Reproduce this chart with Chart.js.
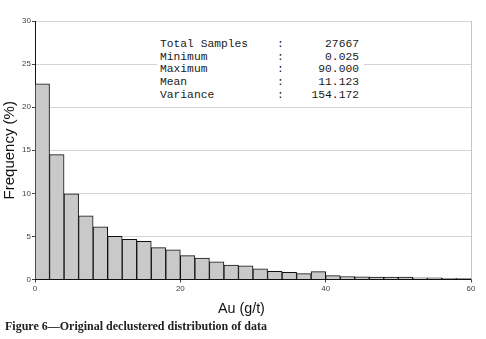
<!DOCTYPE html>
<html>
<head>
<meta charset="utf-8">
<script src="https://cdn.jsdelivr.net/npm/chart.js@4/dist/chart.umd.min.js"></script>
<style>
  html, body { margin: 0; padding: 0; background: #fff; }
  #wrap { position: relative; width: 486px; height: 339px; }
  canvas { position: absolute; left: 0; top: 0; }
  #stats {
    position: absolute; left: 157px; top: 35px; width: 207px; height: 69px;
    background: #fff; font-family: "Liberation Mono", "DejaVu Sans Mono", monospace;
    font-size: 11.3px; color: #1a1a1a;
  }
  #stats div { position: absolute; white-space: pre; line-height: 12px; }
  #caption {
    position: absolute; left: 5px; top: 319px; white-space: nowrap;
    font-family: "Liberation Serif", "DejaVu Serif", serif; font-weight: bold;
    font-size: 12px; color: #222;
  }
  #xtitle {
    position: absolute; left: 218px; top: 300px; white-space: nowrap;
    font-family: "Liberation Sans", Arial, sans-serif; font-size: 14.3px; color: #111;
  }
</style>
</head>
<body>
<div id="wrap">
  <canvas id="c" width="486" height="339"></canvas>
  <div id="stats"></div>
  <div id="xtitle">Au (g/t)</div>
  <div id="caption">Figure 6—Original declustered distribution of data</div>
</div>
<script>
// Bin centres (g/t), bin width 2
const binCenters = [1,3,5,7,9,11,13,15,17,19,21,23,25,27,29,31,33,35,37,39,41,43,45,47,49,51,53,55,57,59];
// Frequency (%)
const frequency = [22.7,14.5,9.95,7.4,6.1,5.0,4.65,4.42,3.7,3.45,2.78,2.5,2.05,1.66,1.6,1.24,0.95,0.83,0.68,0.92,0.45,0.35,0.3,0.28,0.28,0.28,0.2,0.18,0.14,0.1];
const xTicks = [0,20,40,60];
const yTicks = [0,5,10,15,20,25,30];
const statLabels = ["Total Samples","Minimum","Maximum","Mean","Variance"];
const statValues = ["27667","0.025","90.000","11.123","154.172"];

// stats box
const box = document.getElementById('stats');
statLabels.forEach((l, i) => {
  const top = 3 + i * 12.7;
  const a = document.createElement('div'); a.textContent = l; a.style.left = '3px'; a.style.top = top + 'px'; box.appendChild(a);
  const b = document.createElement('div'); b.textContent = ':'; b.style.left = '120px'; b.style.top = top + 'px'; box.appendChild(b);
  const c = document.createElement('div'); c.textContent = statValues[i]; c.style.right = '5px'; c.style.top = top + 'px'; box.appendChild(c);
});

const rightBorder = {
  id: 'rightBorder',
  afterDraw(chart) {
    const {ctx, chartArea} = chart;
    ctx.save();
    ctx.strokeStyle = '#c4c4c4';
    ctx.lineWidth = 1;
    ctx.beginPath();
    ctx.moveTo(Math.round(chartArea.right) + 0.5, chartArea.top);
    ctx.lineTo(Math.round(chartArea.right) + 0.5, chartArea.bottom);
    ctx.stroke();
    ctx.restore();
  }
};

new Chart(document.getElementById('c'), {
  type: 'bar',
  data: {
    datasets: [{
      data: binCenters.map((x, i) => ({x: x, y: frequency[i]})),
      backgroundColor: '#c9c9c9',
      borderColor: '#111',
      borderWidth: 1,
      barPercentage: 1,
      categoryPercentage: 1
    }]
  },
  options: {
    responsive: false,
    animation: false,
    devicePixelRatio: 1,
    layout: { padding: { top: 21, right: 15, left: 0, bottom: 0 } },
    plugins: { legend: { display: false }, tooltip: { enabled: false } },
    scales: {
      x: {
        type: 'linear',
        min: 0, max: 60,
        offset: false,
        afterFit(s) { s.height = 59.5; },
        afterBuildTicks(s) { s.ticks = xTicks.map(v => ({value: v})); },
        grid: { offset: false, drawOnChartArea: false, drawTicks: true, tickLength: 3, tickColor: '#444' },
        border: { color: '#111', width: 1 },
        ticks: { color: '#444', padding: 1, font: { family: 'Liberation Sans', size: 8 } }
      },
      y: {
        min: 0, max: 30,
        afterFit(s) { s.width = 35; },
        afterBuildTicks(s) { s.ticks = yTicks.map(v => ({value: v})); },
        grid: { color: '#d4d4d4', tickLength: 3, tickColor: '#444' },
        border: { color: '#111', width: 1 },
        ticks: { color: '#444', padding: 1, font: { family: 'Liberation Sans', size: 8 } },
        title: { display: true, text: 'Frequency (%)', color: '#111', padding: { top: 1, bottom: 0 },
                 font: { family: 'Liberation Sans', size: 15 } }
      }
    }
  },
  plugins: [rightBorder]
});
</script>
</body>
</html>
